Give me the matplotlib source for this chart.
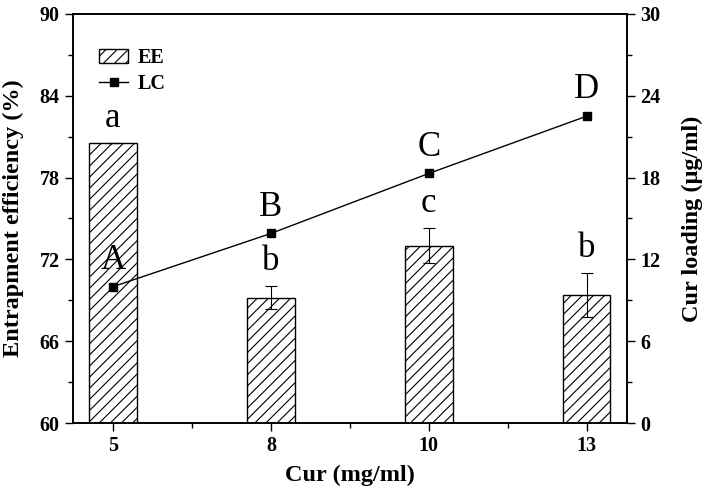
import matplotlib.pyplot as plt
import numpy as np
from matplotlib.ticker import MultipleLocator

plt.rcParams['font.family'] = ['Liberation Serif', 'DejaVu Serif']
plt.rcParams['hatch.linewidth'] = 0.8

cur = ['5', '8', '10', '13']
ee = [80.5, 69.2, 73.0, 69.4]
ee_err = [0.0, 0.85, 1.3, 1.6]
ee_letters = ['a', 'b', 'c', 'b']
lc = [10.0, 13.9, 18.3, 22.5]
lc_letters = ['A', 'B', 'C', 'D']

x = np.arange(len(cur))

fig = plt.figure(figsize=(7.09, 4.92), dpi=100)
ax = fig.add_axes([0.103, 0.140, 0.781, 0.832])

bars = ax.bar(x, ee, width=0.30, color='white', edgecolor='black', hatch='///',
              linewidth=1.0, label='EE', zorder=2)
ax.errorbar(x, ee, yerr=ee_err, fmt='none', ecolor='black', elinewidth=0.8,
            capsize=4, capthick=0.8, zorder=3)
for xi, v, e, t in zip(x, ee, ee_err, ee_letters):
    ax.annotate(t, (xi, v + e), xytext=(0, 6), textcoords='offset points',
                ha='center', va='bottom', fontsize=25)

ax.set_xlim(-0.253, 3.253)
ax.set_ylim(60, 90)
ax.yaxis.set_major_locator(MultipleLocator(6))
ax.yaxis.set_minor_locator(MultipleLocator(3))
ax.set_xticks(x)
ax.set_xticklabels(cur)
ax.set_xticks(x[:-1] + 0.5, minor=True)
ax.tick_params(axis='both', which='major', length=6, width=1, labelsize=14.5)
ax.tick_params(axis='both', which='minor', length=3.5, width=1)
for lab in ax.get_xticklabels() + ax.get_yticklabels():
    lab.set_fontweight('bold')
ax.set_xlabel('Cur (mg/ml)', fontsize=17.5, fontweight='bold')
ax.set_ylabel('Entrapment efficiency (%)', fontsize=17.5, fontweight='bold')
ax.yaxis.set_label_coords(-0.088, 0.5)
ax.xaxis.set_label_coords(0.5, -0.103)

ax2 = ax.twinx()
line, = ax2.plot(x, lc, color='black', linewidth=1.0, marker='s', markersize=6,
                 label='LC')
for xi, v, t in zip(x, lc, lc_letters):
    ax2.annotate(t, (xi, v), xytext=(0, 7), textcoords='offset points',
                 ha='center', va='bottom', fontsize=25)
ax2.set_ylim(0, 30)
ax2.yaxis.set_major_locator(MultipleLocator(6))
ax2.yaxis.set_minor_locator(MultipleLocator(3))
ax2.tick_params(axis='y', which='major', length=6, width=1, labelsize=14.5)
ax2.tick_params(axis='y', which='minor', length=3.5, width=1)
for lab in ax2.get_yticklabels():
    lab.set_fontweight('bold')
ax2.set_ylabel('Cur loading (μg/ml)', fontsize=17.5, fontweight='bold')
ax2.yaxis.set_label_coords(1.100, 0.5)

for a in (ax, ax2):
    for s in a.spines.values():
        s.set_linewidth(1.2)

leg = ax.legend([bars, line], ['EE', 'LC'], loc='upper left',
                bbox_to_anchor=(0.015, 0.96), frameon=False,
                prop={'size': 14.5, 'weight': 'bold'}, handlelength=1.4,
                handletextpad=0.5, labelspacing=0.3)

fig.savefig('out.png', dpi=100)
